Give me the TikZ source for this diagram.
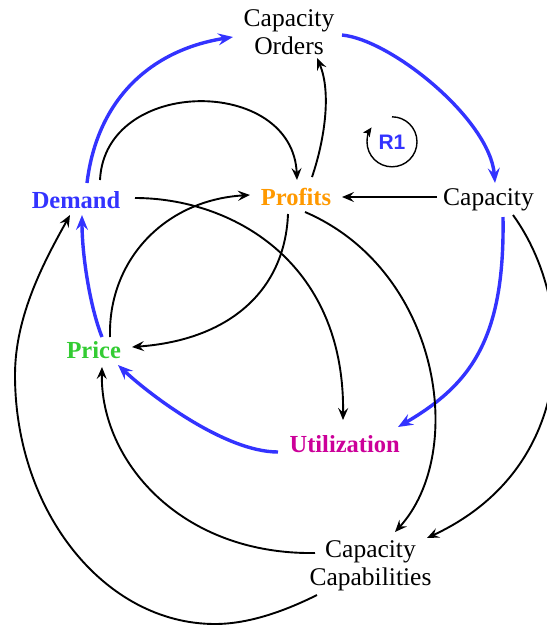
\documentclass[tikz,border=0pt]{standalone}
\usepackage{fontspec}
\setmainfont{Liberation Serif}
\newfontfamily\loopfont{Liberation Sans}
\usetikzlibrary{arrows.meta}
\definecolor{loopblue}{RGB}{51,51,255}
\definecolor{proforange}{RGB}{255,153,0}
\definecolor{pricegreen}{RGB}{51,204,51}
\definecolor{utilmagenta}{RGB}{204,0,153}
\begin{document}
\begin{tikzpicture}[x=1pt,y=-1pt,
  var/.style={inner sep=0pt, font=\fontsize{25.5}{28}\selectfont, align=center},
  keyvar/.style={inner sep=0pt, font=\fontsize{24.5}{28}\selectfont\bfseries},
  blink/.style={draw=loopblue, line width=3.4pt, -{Stealth[length=15pt,width=12pt,inset=5.5pt]}},
  klink/.style={draw=black, line width=1.9pt, -{Stealth[length=12pt,width=10pt,inset=4.5pt]}},
  looparrow/.style={draw=black, line width=1.4pt, -{Stealth[length=9pt,width=8pt,inset=2pt]}}
]
\useasboundingbox (0,0) rectangle (547,625);

% variables
\node[var] (orders) at (289,32.5) {Capacity\\Orders};
\node[keyvar, text=loopblue] (demand) at (76,200) {Demand};
\node[keyvar, text=proforange] (profits) at (296,197) {Profits};
\node[var] (capacity) at (488.5,200) {Capacity};
\node[keyvar, text=pricegreen] (price) at (93.7,350) {Price};
\node[keyvar, text=utilmagenta] (util) at (344.7,444) {Utilization};
\node[var] (capcap) at (370.5,566) {Capacity\\Capabilities};

% loop marker
\node[inner sep=0pt, minimum size=50pt, text=loopblue, font=\loopfont\bfseries\fontsize{21}{24}\selectfont] (r1) at (392,142) {R1};
\draw[looparrow] (r1.north) arc[start angle=90, end angle=-215, radius=25pt];

% reinforcing loop (blue)
\draw[blink] ([shift={(11,-17)}]demand.center) .. controls +(10,-83) and +(-83,13) .. ([shift={(-56,4.5)}]orders.center);
\draw[blink] ([shift={(53,2.5)}]orders.center) .. controls +(50,5) and +(-5,-63) .. ([shift={(6.5,-17)}]capacity.center);
\draw[blink] ([shift={(14.5,17)}]capacity.center) .. controls +(2,123) and +(72,-42) .. ([shift={(53.3,-17)}]util.center);
\draw[blink] ([shift={(-66.7,8)}]util.center) .. controls +(-53,0) and +(32,30) .. ([shift={(24.3,15)}]price.center);
\draw[blink] ([shift={(8.3,-13)}]price.center) .. controls +(-12,-30) and +(0,40) .. ([shift={(6,15)}]demand.center);

% other links (black)
\draw[klink] ([shift={(24,-20)}]demand.center) .. controls +(5,-104) and +(-4,-104) .. ([shift={(1,-17)}]profits.center);
\draw[klink] ([shift={(16,-20)}]profits.center) .. controls +(12,-35) and +(15,35) .. ([shift={(28,25.5)}]orders.center);
\draw[klink] ([shift={(-51.5,-3)}]capacity.center) -- ([shift={(46,0)}]profits.center);
\draw[klink] ([shift={(59,-2)}]demand.center) .. controls +(95,0) and +(2,-160) .. ([shift={(-1.7,-24)}]util.center);
\draw[klink] ([shift={(-8,17)}]profits.center) .. controls +(-3,76) and +(98,-7) .. ([shift={(38.3,-3)}]price.center);
\draw[klink] ([shift={(16.3,-13)}]price.center) .. controls +(-2,-77) and +(-85,5) .. ([shift={(-46,-2)}]profits.center);
\draw[klink] ([shift={(9,15)}]profits.center) .. controls +(135,58) and +(73,-80) .. ([shift={(24.5,-34)}]capcap.center);
\draw[klink] ([shift={(24.5,15)}]capacity.center) .. controls +(65,90) and +(151,-70) .. ([shift={(56.5,-28)}]capcap.center);
\draw[klink] ([shift={(-55.5,-13)}]capcap.center) .. controls +(-135,2) and +(-2,93) .. ([shift={(8.3,17)}]price.center);
\draw[klink] ([shift={(-53.5,29)}]capcap.center) .. controls (287,610) and (250,624) .. (215,624)
  .. controls (105,624) and (15,512) .. (15,375)
  .. controls (15,315) and (45,260) .. ([shift={(-6,15)}]demand.center);
\end{tikzpicture}
\end{document}
